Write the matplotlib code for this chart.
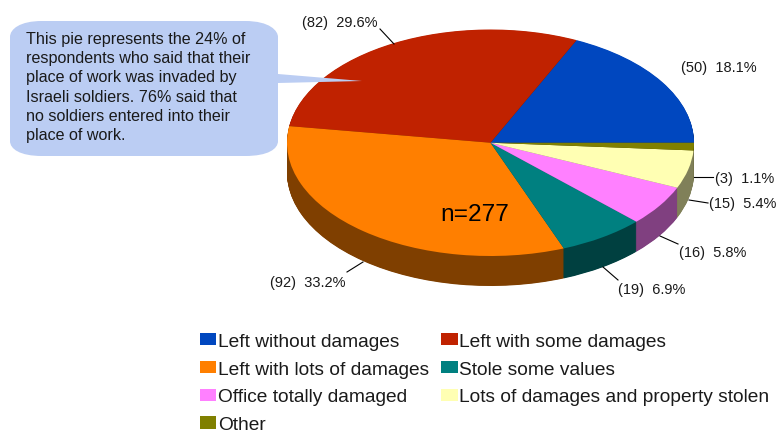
import numpy as np
import matplotlib
matplotlib.use('Agg')
import matplotlib.pyplot as plt
from matplotlib.path import Path
from matplotlib.patches import PathPatch

categories = ['Left without damages', 'Left with some damages', 'Left with lots of damages',
              'Stole some values', 'Office totally damaged', 'Lots of damages and property stolen', 'Other']
counts = [50, 82, 92, 19, 16, 15, 3]
top_colors = ['#0047BF', '#C02200', '#FF7F00', '#008080', '#FF80FF', '#FFFFB3', '#808000']
side_colors = ['#00235F', '#601100', '#7F3F00', '#004040', '#804080', '#808059', '#404000']

note = ('This pie represents the 24% of\nrespondents who said that their\nplace of work was invaded by\n'
        'Israeli soldiers. 76% said that\nno soldiers entered into their\nplace of work.')

plt.rcParams['font.family'] = ['Liberation Sans', 'DejaVu Sans']

W, H = 776, 431
fig = plt.figure(figsize=(W/100, H/100), dpi=100)

# pie box in pixels
left, right, top, mid_bottom = 287, 694, 30.5, 257
depth_px = 30
ry = (mid_bottom-top)/2
depth = depth_px/ry
ax = fig.add_axes([left/W, (H-mid_bottom-depth_px)/H, (right-left)/W, (mid_bottom-top+depth_px)/H])

# side wall: stack of darker pies, then the top one
for d in np.linspace(depth, 0.005, 60):
    ax.pie(counts, colors=side_colors, startangle=0, counterclock=True, center=(0, -d),
           wedgeprops={'linewidth': 0})
wedges, _ = ax.pie(counts, colors=top_colors, startangle=0, counterclock=True, center=(0, 0),
                   wedgeprops={'linewidth': 0})
ax.set_aspect('auto')
ax.set_xlim(-1, 1)
ax.set_ylim(-1-depth, 1)
ax.axis('off')

# overlay in pixel coordinates
ov = fig.add_axes([0, 0, 1, 1])
ov.set_xlim(0, W)
ov.set_ylim(H, 0)
ov.axis('off')
ov.patch.set_alpha(0)

verts = [(42, 22), (245, 22), (270, 22), (278, 32), (278, 38), (278, 75), (362, 82), (278, 84),
         (278, 142), (278, 150), (268, 157), (245, 157), (42, 157), (20, 157), (10, 150), (10, 142),
         (10, 38), (10, 30), (20, 22), (42, 22)]
codes = [Path.MOVETO, Path.LINETO, Path.CURVE4, Path.CURVE4, Path.CURVE4, Path.LINETO, Path.LINETO, Path.LINETO,
         Path.LINETO, Path.CURVE4, Path.CURVE4, Path.CURVE4, Path.LINETO, Path.CURVE4, Path.CURVE4, Path.CURVE4,
         Path.LINETO, Path.CURVE4, Path.CURVE4, Path.CURVE4]
ov.add_patch(PathPatch(Path(verts, codes), fc='#BBCDF3', ec='none'))
ov.text(26, 32, note, fontsize=11.6, color='#1a1a1a', va='top', ha='left', linespacing=1.35)

ov.text(475, 215, 'n=277', fontsize=17.6, color='black', ha='center', va='center')

total = sum(counts)
labels = ['(%d)  %.1f%%' % (c, 100*c/total) for c in counts]
label_pos = [(681, 68), (302, 23), (270, 283), (618, 290), (679, 253), (709, 204), (715, 179)]
leaders = [None, ((380, 30), (394, 45)), ((347, 273), (363, 263)), ((618, 281), (603, 268)),
           ((678, 245), (660, 237)), ((708, 204), (689, 201)), ((713, 178), (694, 178))]
for lab, pos, lead in zip(labels, label_pos, leaders):
    ov.text(pos[0], pos[1], lab, fontsize=10.5, color='#1a1a1a', ha='left', va='center')
    if lead is not None:
        ov.plot([lead[0][0], lead[1][0]], [lead[0][1], lead[1][1]], color='black', lw=0.8)

# legend fills columns, so reorder to read row by row like the original
order = [0, 2, 4, 6, 1, 3, 5]
fig.legend([wedges[i] for i in order], [categories[i] for i in order], ncol=2, frameon=False,
           loc='upper left', bbox_to_anchor=(194/W, 1-328/H), fontsize=13.75, handlelength=0.87,
           handleheight=0.63, handletextpad=0.08, columnspacing=0.63, labelspacing=0.57,
           borderpad=0.3, borderaxespad=0, labelcolor='#1a1a1a')

fig.savefig('out.png', dpi=100)
